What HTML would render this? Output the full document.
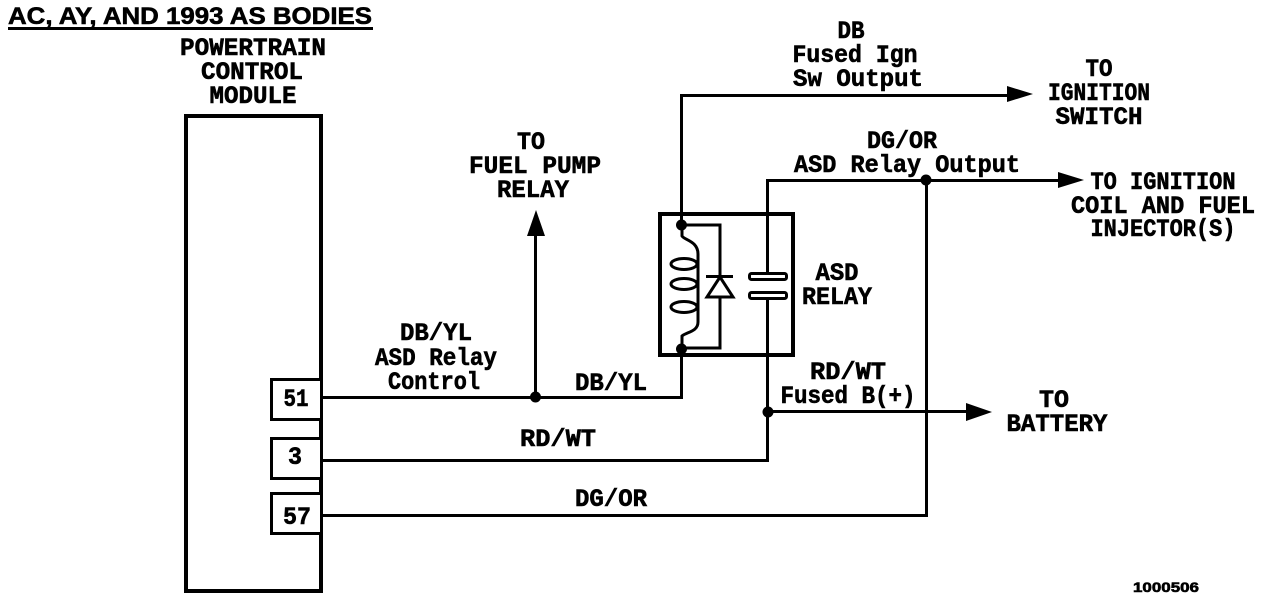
<!DOCTYPE html>
<html><head><meta charset="utf-8"><style>
html,body{margin:0;padding:0;background:#fff}
svg{display:block}
text{font-family:"Liberation Mono",monospace;font-weight:bold;fill:#000;stroke:#000;stroke-width:.6px;font-size:25px;text-anchor:middle}
.l{fill:none;stroke:#000;stroke-width:3}
.b{fill:none;stroke:#000;stroke-width:4}
</style></head><body>
<svg width="1280" height="600" viewBox="0 0 1280 600" xmlns="http://www.w3.org/2000/svg">
<!-- PCM -->
<rect class="b" x="186" y="116" width="135" height="475"/>
<rect class="l" x="271.500" y="379.500" width="50" height="40" style="fill:#fff"/>
<rect class="l" x="271.500" y="438.500" width="50" height="40" style="fill:#fff"/>
<rect class="l" x="271.500" y="493.500" width="50" height="40" style="fill:#fff"/>
<rect x="320" y="377" width="3" height="160"/>
<!-- wires -->
<path class="l" d="M323 397.500H681.500V348"/>
<path class="l" d="M323 460.500H767.500V180.500H1060"/>
<path class="l" d="M323 515.500H926.500V180"/>
<path class="l" d="M681.500 226V95.500H1010"/>
<path class="l" d="M535.500 397V232"/>
<path class="l" d="M767 411.500H968"/>
<!-- arrowheads -->
<path d="M1007 86L1033 94L1007 102Z"/>
<path d="M1058 172L1084 180L1058 188Z"/>
<path d="M966 403L992 412L966 421Z"/>
<path d="M527 236L536 210L545 236Z"/>
<!-- relay -->
<rect class="b" x="660" y="214" width="133" height="141"/>
<path class="l" d="M682 225H720V348H682"/>
<rect x="749" y="281" width="38" height="11" fill="#fff"/>
<path class="l" d="M682 226V236C684 240 698 241 698 254V322C698 332 686 332 682 336V349"/>
<ellipse class="l" cx="684" cy="264" rx="13" ry="5.500"/>
<ellipse class="l" cx="684" cy="284" rx="13" ry="5.500"/>
<ellipse class="l" cx="684" cy="307" rx="13" ry="5.500"/>
<rect x="705" y="270" width="30" height="30" fill="#fff"/>
<path d="M720 262V276M720 298V312" class="l"/>
<path d="M706 276.500H733" class="l"/>
<path d="M720 277L707 297H733Z" class="l" style="fill:#fff"/>
<rect class="l" x="749.500" y="273.500" width="37" height="6" rx="2" style="fill:#fff"/>
<rect class="l" x="749.500" y="292.500" width="37" height="6" rx="2" style="fill:#fff"/>
<!-- dots -->
<circle cx="681.500" cy="225" r="5.500"/>
<circle cx="681.500" cy="349" r="5.500"/>
<circle cx="535.500" cy="397" r="5.500"/>
<circle cx="768" cy="412" r="5.500"/>
<circle cx="926" cy="180" r="5.500"/>
<!-- text -->
<text x="190" y="24" style="font-family:'Liberation Sans',sans-serif;font-size:24px" textLength="364" lengthAdjust="spacingAndGlyphs">AC, AY, AND 1993 AS BODIES</text>
<rect x="8" y="27" width="365" height="3"/>
<text x="253" y="55" textLength="146" lengthAdjust="spacingAndGlyphs">POWERTRAIN</text>
<text x="252" y="79" textLength="102" lengthAdjust="spacingAndGlyphs">CONTROL</text>
<text x="253" y="103" textLength="87" lengthAdjust="spacingAndGlyphs">MODULE</text>
<text x="851" y="38" textLength="27" lengthAdjust="spacingAndGlyphs">DB</text>
<text x="855" y="62" textLength="125" lengthAdjust="spacingAndGlyphs">Fused Ign</text>
<text x="858" y="86" textLength="130" lengthAdjust="spacingAndGlyphs">Sw Output</text>
<text x="1099" y="76" textLength="27" lengthAdjust="spacingAndGlyphs">TO</text>
<text x="1099" y="100" textLength="102" lengthAdjust="spacingAndGlyphs">IGNITION</text>
<text x="1099" y="124" textLength="87" lengthAdjust="spacingAndGlyphs">SWITCH</text>
<text x="902" y="148" textLength="70" lengthAdjust="spacingAndGlyphs">DG/OR</text>
<text x="907" y="172" textLength="226" lengthAdjust="spacingAndGlyphs">ASD Relay Output</text>
<text x="1163" y="189" textLength="145" lengthAdjust="spacingAndGlyphs">TO IGNITION</text>
<text x="1163" y="213" textLength="184" lengthAdjust="spacingAndGlyphs">COIL AND FUEL</text>
<text x="1163" y="236" textLength="145" lengthAdjust="spacingAndGlyphs">INJECTOR(S)</text>
<text x="531" y="149" textLength="28" lengthAdjust="spacingAndGlyphs">TO</text>
<text x="535" y="173" textLength="132" lengthAdjust="spacingAndGlyphs">FUEL PUMP</text>
<text x="533" y="197" textLength="72" lengthAdjust="spacingAndGlyphs">RELAY</text>
<text x="837" y="280" textLength="43" lengthAdjust="spacingAndGlyphs">ASD</text>
<text x="837" y="304" textLength="70" lengthAdjust="spacingAndGlyphs">RELAY</text>
<text x="436" y="340" textLength="72" lengthAdjust="spacingAndGlyphs">DB/YL</text>
<text x="436" y="365" textLength="122" lengthAdjust="spacingAndGlyphs">ASD Relay</text>
<text x="434" y="389" textLength="92" lengthAdjust="spacingAndGlyphs">Control</text>
<text x="611" y="390" textLength="72" lengthAdjust="spacingAndGlyphs">DB/YL</text>
<text x="848" y="379" textLength="76" lengthAdjust="spacingAndGlyphs">RD/WT</text>
<text x="848" y="403" textLength="135" lengthAdjust="spacingAndGlyphs">Fused B(+)</text>
<text x="1054" y="407" textLength="30" lengthAdjust="spacingAndGlyphs">TO</text>
<text x="1057" y="431" textLength="101" lengthAdjust="spacingAndGlyphs">BATTERY</text>
<text x="558" y="446" textLength="76" lengthAdjust="spacingAndGlyphs">RD/WT</text>
<text x="611" y="506" textLength="72" lengthAdjust="spacingAndGlyphs">DG/OR</text>
<text x="296" y="406" textLength="25" lengthAdjust="spacingAndGlyphs">51</text>
<text x="295" y="464" textLength="14" lengthAdjust="spacingAndGlyphs">3</text>
<text x="297" y="524" textLength="28" lengthAdjust="spacingAndGlyphs">57</text>
<text x="1166" y="592" style="font-family:'Liberation Sans',sans-serif;font-size:14px" textLength="66" lengthAdjust="spacingAndGlyphs">1000506</text>
</svg>
</body></html>
